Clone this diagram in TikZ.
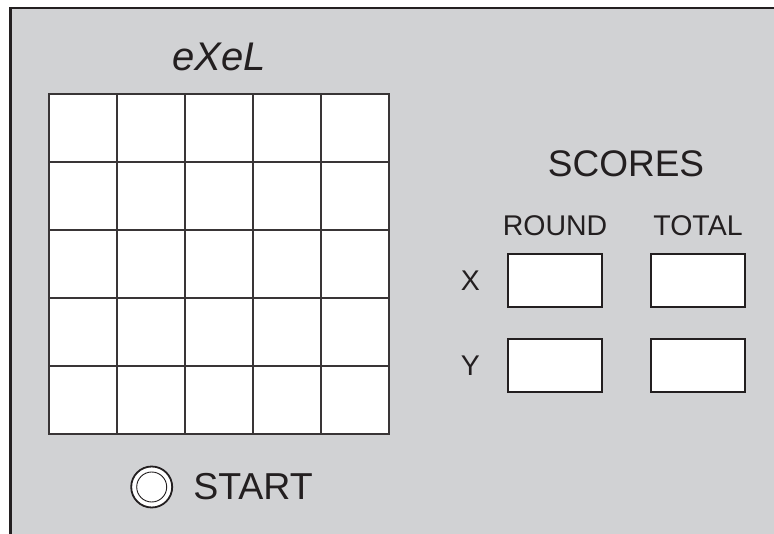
\documentclass[tikz,border=0pt]{standalone}
\usepackage{fontspec}
\setmainfont{Liberation Sans}
\usepackage{xcolor}
\usetikzlibrary{positioning}

\definecolor{panelgray}{HTML}{D1D2D4}
\definecolor{ink}{HTML}{231F20}

\begin{document}
\begin{tikzpicture}[x=1pt, y=-1pt,
    cell/.style={rectangle, draw=ink!90, fill=white, line width=1.3pt, minimum size=68pt, inner sep=0pt},
    scorebox/.style={rectangle, draw=ink, fill=white, line width=2pt, minimum width=94pt, minimum height=53pt, inner sep=0pt},
    bigtext/.style={text=ink, inner sep=0pt, font=\fontsize{37}{40}\selectfont},
    smalltext/.style={text=ink, inner sep=0pt, font=\fontsize{28.5}{32}\selectfont}]

    \useasboundingbox (0,0) rectangle (774,534);

    % panel
    \fill[panelgray] (10.5,8) rectangle (774,534);
    \draw[ink, line width=2.4pt] (10.5,534) -- (10.5,8) -- (774,8);

    % title
    \node (title) [bigtext, anchor=base, font=\fontsize{40}{44}\selectfont\itshape] at (219,71) {eXeL};

    % 5x5 board
    \foreach \i in {0,...,4} {
        \foreach \j in {0,...,4} {
            \node (cell-\i-\j) [cell] at ({83+68*\i},{128+68*\j}) {};
        }
    }

    % start button
    \node (button) [circle, draw=ink, fill=white, line width=1.8pt, minimum size=41pt, inner sep=0pt] at (151.7,487) {};
    \node (buttoninner) [circle, draw=ink, line width=0.9pt, minimum size=30pt, inner sep=0pt] at (button) {};
    \node (start) [bigtext, right=20pt of button, font=\fontsize{37.5}{40}\selectfont] {START};

    % scores
    \node (scores) [bigtext, anchor=base] at (626,176.7) {SCORES};

    \node (xround) [scorebox] at (555,280.5) {};
    \node (xtotal) [scorebox] at (698,280.5) {};
    \node (yround) [scorebox] at (555,365.5) {};
    \node (ytotal) [scorebox] at (698,365.5) {};

    \node (round) [smalltext, above=17pt of xround] {ROUND};
    \node (total) [smalltext, above=17pt of xtotal] {TOTAL};

    \node (xlabel) [smalltext, left=27pt of xround] {X};
    \node (ylabel) [smalltext, left=27pt of yround] {Y};

\end{tikzpicture}
\end{document}
